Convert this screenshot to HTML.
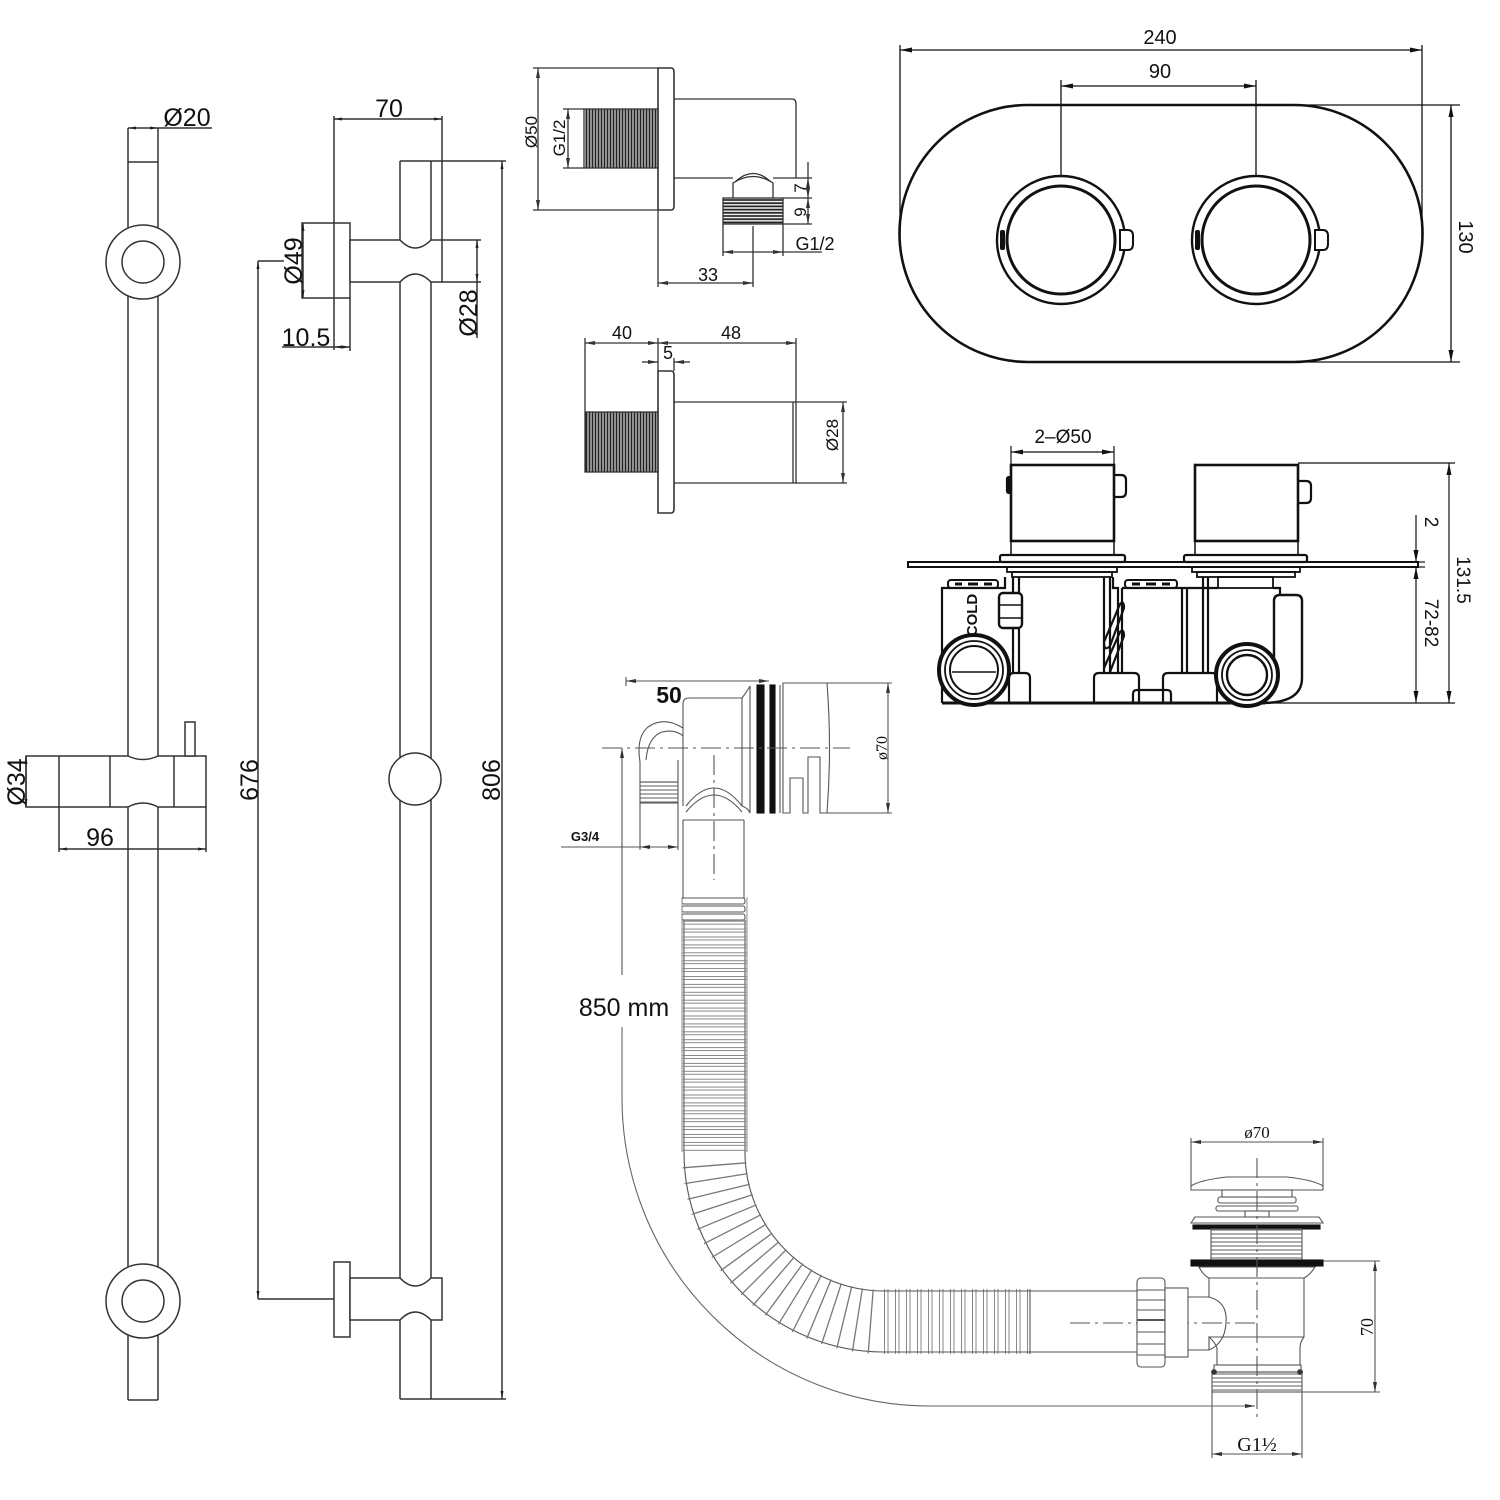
<!DOCTYPE html>
<html><head><meta charset="utf-8"><style>
html,body{margin:0;padding:0;background:#fff;}
svg{display:block;}
text{font-family:"Liberation Sans",sans-serif;fill:#111;}
</style></head><body>
<svg width="1500" height="1500" viewBox="0 0 1500 1500" xmlns="http://www.w3.org/2000/svg">
<defs>
<marker id="s" viewBox="0 0 8 3" refX="8" refY="1.5" markerWidth="8" markerHeight="3" markerUnits="userSpaceOnUse" orient="auto-start-reverse"><path d="M0,0L8,1.5L0,3z" fill="#222"/></marker>
<marker id="m" viewBox="0 0 12 5" refX="12" refY="2.5" markerWidth="12" markerHeight="5" markerUnits="userSpaceOnUse" orient="auto-start-reverse"><path d="M0,0L12,2.5L0,5z" fill="#111"/></marker>
<marker id="b" viewBox="0 0 10 4" refX="10" refY="2" markerWidth="10" markerHeight="4" markerUnits="userSpaceOnUse" orient="auto-start-reverse"><path d="M0,0L10,2L0,4z" fill="#333"/></marker>
<pattern id="tv" patternUnits="userSpaceOnUse" width="3" height="10"><line x1="1.5" y1="0" x2="1.5" y2="10" stroke="#222" stroke-width="2"/></pattern>
<pattern id="th" patternUnits="userSpaceOnUse" width="10" height="3.2"><line x1="0" y1="1.6" x2="10" y2="1.6" stroke="#222" stroke-width="1.8"/></pattern>
<pattern id="tw" patternUnits="userSpaceOnUse" width="10" height="4"><line x1="0" y1="2" x2="10" y2="2" stroke="#777" stroke-width="1.2"/></pattern>
<pattern id="rv" patternUnits="userSpaceOnUse" x="0" y="897" width="100" height="7.9"><line x1="0" y1="0.5" x2="100" y2="0.5" stroke="#888" stroke-width="1"/><line x1="0" y1="3.5" x2="100" y2="3.5" stroke="#888" stroke-width="1"/></pattern>
<pattern id="rh" patternUnits="userSpaceOnUse" x="884" y="0" width="11" height="100"><line x1="0.5" y1="0" x2="0.5" y2="100" stroke="#888"/><line x1="4" y1="0" x2="4" y2="100" stroke="#888"/></pattern>
</defs>

<!-- ================= SHOWER RAIL: FRONT VIEW ================= -->
<g stroke="#333" stroke-width="1.5" fill="none">
<line x1="128" y1="128" x2="128" y2="1400"/>
<line x1="158" y1="128" x2="158" y2="1400"/>
<line x1="128" y1="162" x2="158" y2="162"/>
<line x1="128" y1="1400" x2="158" y2="1400"/>
<line x1="128" y1="128" x2="158" y2="128" marker-start="url(#s)" marker-end="url(#s)"/>
<line x1="158" y1="128" x2="212" y2="128"/>
<circle cx="143" cy="262" r="37" fill="#fff"/>
<circle cx="143" cy="262" r="21"/>
<circle cx="143" cy="1301" r="37" fill="#fff"/>
<circle cx="143" cy="1301" r="21"/>
<path d="M26,756 H128 Q143,763 158,756 H206 V807 H158 Q143,799 128,807 H26 Z" fill="#fff"/>
<line x1="59" y1="756" x2="59" y2="852"/>
<line x1="110" y1="756" x2="110" y2="807"/>
<line x1="174" y1="756" x2="174" y2="807"/>
<line x1="206" y1="807" x2="206" y2="852"/>
<rect x="185" y="722" width="10" height="34" fill="#fff"/>
<line x1="26" y1="756" x2="26" y2="807" marker-start="url(#s)" marker-end="url(#s)"/>
<line x1="59" y1="849" x2="206" y2="849" marker-start="url(#s)" marker-end="url(#s)"/>
</g>
<g font-size="25">
<text x="187" y="126" text-anchor="middle">Ø20</text>
<text transform="translate(25,782) rotate(-90)" text-anchor="middle">Ø34</text>
<text x="100" y="846" text-anchor="middle">96</text>
</g>

<!-- ================= SHOWER RAIL: SIDE VIEW ================= -->
<g stroke="#333" stroke-width="1.5" fill="none">
<line x1="400" y1="161" x2="400" y2="1399"/>
<line x1="431" y1="161" x2="431" y2="1399"/>
<line x1="400" y1="161" x2="506" y2="161"/>
<line x1="400" y1="1399" x2="506" y2="1399"/>
<circle cx="415" cy="779" r="26" fill="#fff"/>
<rect x="302" y="223" width="48" height="75" fill="#fff"/>
<path d="M350,240 H400 Q415,256 431,240 H442 V282 H431 Q415,266 400,282 H350 Z" fill="#fff"/>
<rect x="334" y="1262" width="16" height="75" fill="#fff"/>
<path d="M350,1278 H400 Q415,1294 431,1278 H442 V1320 H431 Q415,1304 400,1320 H350 Z" fill="#fff"/>
<line x1="334" y1="116" x2="334" y2="350"/>
<line x1="442" y1="116" x2="442" y2="240"/>
<line x1="334" y1="119" x2="442" y2="119" marker-start="url(#s)" marker-end="url(#s)"/>
<line x1="442" y1="240" x2="481" y2="240"/>
<line x1="442" y1="282" x2="481" y2="282"/>
<line x1="477" y1="240" x2="477" y2="282" marker-start="url(#s)" marker-end="url(#s)"/>
<line x1="477" y1="282" x2="477" y2="338"/>
<line x1="303" y1="223" x2="303" y2="298" marker-start="url(#s)" marker-end="url(#s)"/>
<line x1="350" y1="298" x2="350" y2="351"/>
<line x1="282" y1="347" x2="334" y2="347"/>
<line x1="334" y1="347" x2="350" y2="347" marker-start="url(#s)" marker-end="url(#s)"/>
<line x1="258" y1="261" x2="284" y2="261"/>
<line x1="258" y1="261" x2="258" y2="1299" marker-start="url(#s)" marker-end="url(#s)"/>
<line x1="258" y1="1299" x2="334" y2="1299"/>
<line x1="502" y1="161" x2="502" y2="1399" marker-start="url(#s)" marker-end="url(#s)"/>
</g>
<g font-size="25">
<text x="389" y="117" text-anchor="middle">70</text>
<text transform="translate(477,313) rotate(-90)" text-anchor="middle">Ø28</text>
<text transform="translate(302,261) rotate(-90)" text-anchor="middle">Ø49</text>
<text x="306" y="346" text-anchor="middle">10.5</text>
<text transform="translate(258,780) rotate(-90)" text-anchor="middle">676</text>
<text transform="translate(500,780) rotate(-90)" text-anchor="middle">806</text>
</g>

<!-- ================= WALL ELBOW (TOP) ================= -->
<g stroke="#333" stroke-width="1.3" fill="none">
<line x1="533" y1="68" x2="658" y2="68"/>
<line x1="533" y1="210" x2="658" y2="210"/>
<line x1="538" y1="68" x2="538" y2="210" marker-start="url(#b)" marker-end="url(#b)"/>
<path d="M658,68 H671 Q674,68 674,72 V206 Q674,210 671,210 H658 Z" stroke-width="1.6" fill="#fff"/>
<rect x="584" y="109" width="74" height="59" fill="url(#tv)"/>
<line x1="563" y1="109" x2="584" y2="109"/>
<line x1="563" y1="168" x2="584" y2="168"/>
<line x1="568" y1="109" x2="568" y2="168" marker-start="url(#b)" marker-end="url(#b)"/>
<path d="M674,99 H792 Q796,99 796,104 V178 H773 M733,178 H674"/>
<path d="M733,198 V183 Q753,170 773,183 V198"/>
<path d="M736,181 Q753,166 770,181"/>
<rect x="723" y="198" width="60" height="26" fill="url(#th)"/>
<line x1="796" y1="178" x2="812" y2="178"/>
<line x1="783" y1="198" x2="812" y2="198"/>
<line x1="783" y1="224" x2="812" y2="224"/>
<line x1="808" y1="162" x2="808" y2="178"/>
<line x1="808" y1="178" x2="808" y2="198" marker-start="url(#b)" marker-end="url(#b)"/>
<line x1="808" y1="198" x2="808" y2="224" marker-start="url(#b)" marker-end="url(#b)"/>
<line x1="723" y1="224" x2="723" y2="256"/>
<line x1="783" y1="224" x2="783" y2="256"/>
<line x1="723" y1="252" x2="783" y2="252" marker-start="url(#b)" marker-end="url(#b)"/>
<line x1="783" y1="252" x2="822" y2="252"/>
<line x1="658" y1="210" x2="658" y2="287"/>
<line x1="753" y1="226" x2="753" y2="287"/>
<line x1="658" y1="283" x2="753" y2="283" marker-start="url(#b)" marker-end="url(#b)"/>
</g>
<g font-size="17">
<text transform="translate(537,132) rotate(-90)" text-anchor="middle">Ø50</text>
<text transform="translate(565,138) rotate(-90)" text-anchor="middle">G1/2</text>
<text transform="translate(806,188) rotate(-90)" text-anchor="middle">7</text>
<text transform="translate(806,212) rotate(-90)" text-anchor="middle">9</text>
<text x="815" y="250" text-anchor="middle" font-size="18">G1/2</text>
<text x="708" y="281" text-anchor="middle" font-size="18">33</text>
</g>

<!-- ================= WALL ELBOW (BOTTOM) ================= -->
<g stroke="#333" stroke-width="1.3" fill="none">
<line x1="585" y1="338" x2="585" y2="412"/>
<line x1="658" y1="338" x2="658" y2="371"/>
<line x1="796" y1="338" x2="796" y2="402"/>
<line x1="585" y1="343" x2="658" y2="343" marker-start="url(#b)" marker-end="url(#b)"/>
<line x1="658" y1="343" x2="796" y2="343" marker-start="url(#b)" marker-end="url(#b)"/>
<line x1="642" y1="362" x2="658" y2="362" marker-end="url(#b)"/>
<line x1="690" y1="362" x2="674" y2="362" marker-end="url(#b)"/>
<line x1="674" y1="358" x2="674" y2="371"/>
<path d="M658,371 H671 Q674,371 674,375 V509 Q674,513 671,513 H658 Z" stroke-width="1.6"/>
<rect x="585" y="412" width="73" height="60" fill="url(#tv)"/>
<path d="M674,402 H796 V483 H674"/>
<line x1="793" y1="402" x2="793" y2="483"/>
<line x1="796" y1="402" x2="847" y2="402"/>
<line x1="796" y1="483" x2="847" y2="483"/>
<line x1="843" y1="402" x2="843" y2="483" marker-start="url(#b)" marker-end="url(#b)"/>
</g>
<g font-size="18">
<text x="622" y="339" text-anchor="middle">40</text>
<text x="731" y="339" text-anchor="middle">48</text>
<text x="668" y="359" text-anchor="middle">5</text>
<text transform="translate(838,435) rotate(-90)" text-anchor="middle" font-size="17">Ø28</text>
</g>

<!-- ================= OVAL COVER PLATE ================= -->
<g stroke="#111" fill="none">
<path d="M1028,105 H1294 A128.5,128.5 0 0 1 1294,362 H1028 A128.5,128.5 0 0 1 1028,105 Z" stroke-width="2.6"/>
<circle cx="1061" cy="240" r="64" stroke-width="2.4"/>
<circle cx="1061" cy="240" r="54" stroke-width="3"/>
<circle cx="1256" cy="240" r="64" stroke-width="2.4"/>
<circle cx="1256" cy="240" r="54" stroke-width="3"/>
<path d="M1120,230 H1128 Q1133,230 1133,236 V244 Q1133,250 1128,250 H1120 Z" stroke-width="2" fill="#fff"/>
<path d="M1315,230 H1323 Q1328,230 1328,236 V244 Q1328,250 1323,250 H1315 Z" stroke-width="2" fill="#fff"/>
<rect x="1000" y="230" width="5" height="20" rx="2" fill="#111" stroke="none"/>
<rect x="1195" y="230" width="5" height="20" rx="2" fill="#111" stroke="none"/>
<g stroke-width="1.3">
<line x1="900" y1="45" x2="900" y2="235"/>
<line x1="1422" y1="45" x2="1422" y2="235"/>
<line x1="900" y1="50" x2="1422" y2="50" marker-start="url(#m)" marker-end="url(#m)"/>
<line x1="1061" y1="80" x2="1061" y2="176"/>
<line x1="1256" y1="80" x2="1256" y2="176"/>
<line x1="1061" y1="86" x2="1256" y2="86" marker-start="url(#m)" marker-end="url(#m)"/>
<line x1="1294" y1="105" x2="1460" y2="105"/>
<line x1="1294" y1="362" x2="1460" y2="362"/>
<line x1="1451" y1="105" x2="1451" y2="362" marker-start="url(#m)" marker-end="url(#m)"/>
</g>
</g>
<g font-size="20">
<text x="1160" y="44" text-anchor="middle">240</text>
<text x="1160" y="78" text-anchor="middle">90</text>
<text transform="translate(1459,237) rotate(90)" text-anchor="middle">130</text>
</g>

<!-- ================= VALVE SIDE VIEW ================= -->
<g stroke="#111" stroke-width="2.2" fill="none">
<line x1="1011" y1="446" x2="1011" y2="465" stroke-width="1.2"/>
<line x1="1114" y1="446" x2="1114" y2="465" stroke-width="1.2"/>
<line x1="1011" y1="452" x2="1114" y2="452" stroke-width="1.2" marker-start="url(#m)" marker-end="url(#m)"/>
<rect x="1011" y="465" width="103" height="76" stroke-width="2.6"/>
<rect x="1011" y="541" width="103" height="14" stroke-width="1.5"/>
<path d="M1114,475 H1121 Q1126,475 1126,480 V492 Q1126,497 1121,497 H1114" stroke-width="2.2"/>
<rect x="1007" y="477" width="4" height="16" rx="2" fill="#111"/>
<rect x="1195" y="465" width="103" height="76" stroke-width="2.6"/>
<rect x="1195" y="541" width="103" height="14" stroke-width="1.5"/>
<path d="M1298,481 H1306 Q1311,481 1311,486 V498 Q1311,503 1306,503 H1298" stroke-width="2.2"/>
<rect x="1000" y="555" width="125" height="7" rx="2"/>
<rect x="1184" y="555" width="123" height="7" rx="2"/>
<rect x="908" y="562" width="510" height="5" stroke-width="2"/>
<rect x="1007" y="567" width="110" height="5" stroke-width="1.8"/>
<rect x="1012" y="572" width="100" height="5" stroke-width="1.8"/>
<rect x="1192" y="567" width="108" height="5" stroke-width="1.8"/>
<rect x="1197" y="572" width="98" height="5" stroke-width="1.8"/>
<path d="M942,703 V588 H1005 V577"/>
<rect x="948" y="580" width="50" height="8" rx="3" stroke-width="2"/>
<line x1="955" y1="584" x2="962" y2="584" stroke-width="3"/>
<line x1="968" y1="584" x2="978" y2="584" stroke-width="3"/>
<line x1="984" y1="584" x2="992" y2="584" stroke-width="3"/>
<line x1="1013" y1="577" x2="1013" y2="673"/>
<line x1="1019" y1="577" x2="1019" y2="673"/>
<rect x="999" y="593" width="23" height="35" rx="4" stroke-width="2.4" fill="#fff"/>
<line x1="1000" y1="605" x2="1021" y2="605" stroke-width="1.5"/>
<line x1="1000" y1="618" x2="1021" y2="618" stroke-width="1.5"/>
<line x1="1104" y1="577" x2="1104" y2="673"/>
<line x1="1110" y1="577" x2="1110" y2="673"/>
<path d="M1113,577 V588 H1118 V673"/>
<line x1="1122" y1="588" x2="1122" y2="673"/>
<rect x="1125" y="580" width="52" height="8" rx="3" stroke-width="2"/>
<line x1="1132" y1="584" x2="1140" y2="584" stroke-width="3"/>
<line x1="1146" y1="584" x2="1156" y2="584" stroke-width="3"/>
<line x1="1162" y1="584" x2="1170" y2="584" stroke-width="3"/>
<line x1="1122" y1="588" x2="1218" y2="588"/>
<line x1="1182" y1="588" x2="1182" y2="673"/>
<line x1="1187" y1="588" x2="1187" y2="673"/>
<line x1="1203" y1="577" x2="1203" y2="673"/>
<line x1="1208" y1="577" x2="1208" y2="673"/>
<rect x="1218" y="577" width="55" height="11" stroke-width="1.8"/>
<path d="M1273,588 H1280 V595"/>
<path d="M1262,703 Q1302,703 1302,678 V601 Q1302,595 1296,595 H1280 Q1274,595 1274,601 V680 Q1274,692 1262,693" stroke-width="2.4"/>
<path d="M1104,642 L1120,604 Q1124,600 1124,608 L1110,646 Q1104,652 1104,642 Z" stroke-width="2.2"/>
<path d="M1104,668 L1120,632 Q1124,628 1124,636 L1110,672" stroke-width="2.2"/>
<path d="M1009,703 V678 Q1009,673 1014,673 H1025 Q1030,673 1030,678 V703"/>
<path d="M1094,703 V678 Q1094,673 1099,673 H1134 Q1139,673 1139,678 V703"/>
<path d="M1133,703 V694 Q1133,690 1137,690 H1167 Q1171,690 1171,694 V703"/>
<path d="M1163,703 V678 Q1163,673 1168,673 H1212 Q1217,673 1217,678 V703"/>
<line x1="942" y1="703" x2="1265" y2="703" stroke-width="3"/>
<circle cx="974" cy="670" r="35" stroke-width="4" fill="#fff"/>
<circle cx="974" cy="670" r="29" stroke-width="1.8"/>
<circle cx="974" cy="670" r="24" stroke-width="2"/>
<line x1="952" y1="672" x2="996" y2="672" stroke-width="1.5"/>
<circle cx="1247" cy="675" r="31" stroke-width="4" fill="#fff"/>
<circle cx="1247" cy="675" r="25" stroke-width="1.8"/>
<circle cx="1247" cy="675" r="20" stroke-width="2.4"/>
<g stroke-width="1.2">
<line x1="1298" y1="463" x2="1455" y2="463"/>
<line x1="1265" y1="703" x2="1455" y2="703"/>
<line x1="1418" y1="562" x2="1425" y2="562"/>
<line x1="1418" y1="567" x2="1425" y2="567"/>
<line x1="1449" y1="463" x2="1449" y2="703" marker-start="url(#m)" marker-end="url(#m)"/>
<line x1="1416" y1="515" x2="1416" y2="562" marker-end="url(#m)"/>
<line x1="1416" y1="567" x2="1416" y2="703" marker-start="url(#m)" marker-end="url(#m)"/>
</g>
</g>
<g font-size="19">
<text x="1063" y="443" text-anchor="middle">2–Ø50</text>
<text transform="translate(1425,522) rotate(90)" text-anchor="middle">2</text>
<text transform="translate(1425,623) rotate(90)" text-anchor="middle">72-82</text>
<text transform="translate(1457,580) rotate(90)" text-anchor="middle">131.5</text>
<text transform="translate(977,615) rotate(-90)" text-anchor="middle" font-size="15" font-weight="bold">COLD</text>
</g>

<!-- ================= BATH WASTE & OVERFLOW ================= -->
<g stroke="#555" stroke-width="1.1" fill="none">
<line x1="626" y1="677" x2="626" y2="686"/>
<line x1="626" y1="681" x2="769" y2="681" marker-start="url(#b)" marker-end="url(#b)"/>
<path d="M640,782 V762 Q636,737 648,727 Q664,716 683,728"/>
<path d="M646,760 Q648,737 662,732 Q675,729 683,736"/>
<path d="M678,782 V760"/>
<rect x="640" y="782" width="38" height="21" fill="url(#tw)"/>
<line x1="640" y1="803" x2="640" y2="850"/>
<line x1="678" y1="803" x2="678" y2="850"/>
<path d="M683,806 V704 Q683,698 689,698 H742 V806"/>
<path d="M742,698 Q748,690 750,686 V813 Q748,808 742,806"/>
<path d="M686,806 Q714,770 742,806"/>
<path d="M686,812 Q714,778 742,812"/>
<line x1="683" y1="820" x2="744" y2="820"/>
<line x1="683" y1="820" x2="683" y2="898"/>
<line x1="744" y1="820" x2="744" y2="898"/>
<rect x="682" y="898" width="63" height="6" rx="2"/>
<rect x="682" y="906" width="63" height="6" rx="2"/>
<rect x="682" y="914" width="63" height="6" rx="2"/>
<rect x="757" y="685" width="7" height="128" fill="#111" stroke="#111"/>
<rect x="770" y="685" width="5" height="128" fill="#111" stroke="#111"/>
<line x1="780" y1="685" x2="780" y2="813"/>
<path d="M783,683 H827 Q832,748 827,813 H820 V757 H808 V813 H803 V778 H790 V813 H783 Z"/>
<line x1="827" y1="683" x2="892" y2="683"/>
<line x1="827" y1="813" x2="892" y2="813"/>
<line x1="888" y1="683" x2="888" y2="813" marker-start="url(#b)" marker-end="url(#b)"/>
<line x1="602" y1="748" x2="850" y2="748" stroke-dasharray="20,5,3,5"/>
<line x1="714" y1="755" x2="714" y2="880" stroke-dasharray="20,5,3,5"/>
<line x1="561" y1="847" x2="640" y2="847"/>
<line x1="640" y1="847" x2="678" y2="847" marker-start="url(#b)" marker-end="url(#b)"/>
<line x1="684" y1="920" x2="684" y2="1152"/>
<line x1="745" y1="920" x2="745" y2="1152"/>
<rect x="682" y="920" width="65" height="232" fill="url(#rv)" stroke="none"/>
<line x1="682" y1="897" x2="682" y2="1152" stroke="#999"/>
<line x1="747" y1="897" x2="747" y2="1152" stroke="#999"/>
<path d="M745,1152 A139,139 0 0 0 884,1291"/>
<path d="M684,1152 A200,200 0 0 0 884,1352"/>
<g stroke="#777" stroke-width="1.3">
<line x1="746.4" y1="1162.8" x2="682.6" y2="1167.8"/>
<line x1="747.7" y1="1173.6" x2="684.5" y2="1183.6"/>
<line x1="749.8" y1="1184.2" x2="687.6" y2="1199.2"/>
<line x1="752.8" y1="1194.6" x2="691.9" y2="1214.4"/>
<line x1="756.5" y1="1204.8" x2="697.4" y2="1229.3"/>
<line x1="761.0" y1="1214.7" x2="704.0" y2="1243.7"/>
<line x1="766.3" y1="1224.1" x2="711.8" y2="1257.5"/>
<line x1="772.4" y1="1233.1" x2="720.6" y2="1270.7"/>
<line x1="779.1" y1="1241.6" x2="730.4" y2="1283.2"/>
<line x1="786.4" y1="1249.6" x2="741.2" y2="1294.8"/>
<line x1="794.4" y1="1256.9" x2="752.8" y2="1305.6"/>
<line x1="802.9" y1="1263.6" x2="765.3" y2="1315.4"/>
<line x1="811.9" y1="1269.7" x2="778.5" y2="1324.2"/>
<line x1="821.4" y1="1275.0" x2="792.3" y2="1332.0"/>
<line x1="831.2" y1="1279.5" x2="806.7" y2="1338.6"/>
<line x1="841.4" y1="1283.3" x2="821.6" y2="1344.1"/>
<line x1="851.8" y1="1286.2" x2="836.8" y2="1348.4"/>
<line x1="862.4" y1="1288.3" x2="852.4" y2="1351.5"/>
<line x1="873.2" y1="1289.6" x2="868.2" y2="1353.4"/>
</g>
<rect x="884" y="1289" width="146" height="65" fill="url(#rh)" stroke="none"/>
<line x1="884" y1="1291" x2="1137" y2="1291"/>
<line x1="884" y1="1352" x2="1137" y2="1352"/>
<line x1="1030" y1="1289" x2="1030" y2="1354"/>
<line x1="1070" y1="1323" x2="1257" y2="1323" stroke-dasharray="20,5,3,5"/>
<rect x="1137" y="1278" width="28" height="89" rx="4" fill="#fff"/>
<g stroke-width="1">
<line x1="1137" y1="1290" x2="1165" y2="1290"/>
<line x1="1137" y1="1300" x2="1165" y2="1300"/>
<line x1="1137" y1="1310" x2="1165" y2="1310"/>
<line x1="1137" y1="1320" x2="1165" y2="1320" stroke-width="2"/>
<line x1="1137" y1="1332" x2="1165" y2="1332"/>
<line x1="1137" y1="1344" x2="1165" y2="1344"/>
<line x1="1137" y1="1355" x2="1165" y2="1355"/>
</g>
<rect x="1165" y="1288" width="23" height="69" fill="#fff"/>
<line x1="1188" y1="1297" x2="1209" y2="1297"/>
<line x1="1188" y1="1350" x2="1209" y2="1350"/>
<path d="M1209,1297 Q1228,1302 1226,1323 Q1225,1343 1209,1350"/>
<path d="M1191,1190 V1186 Q1200,1180 1227,1177 H1287 Q1314,1180 1323,1186 V1190 Z"/>
<rect x="1222" y="1190" width="70" height="7"/>
<rect x="1218" y="1197" width="78" height="6" rx="2"/>
<rect x="1216" y="1206" width="82" height="5" rx="2"/>
<rect x="1245" y="1211" width="24" height="6"/>
<path d="M1191,1223 L1195,1217 H1319 L1323,1223 Z"/>
<rect x="1193" y="1225" width="127" height="4" fill="#111" stroke="#111"/>
<rect x="1211" y="1229" width="91" height="31" fill="url(#tw)"/>
<rect x="1191" y="1260" width="132" height="6" fill="#111" stroke="#111"/>
<path d="M1199,1267 H1315 Q1310,1275 1304,1278 H1209 Q1203,1275 1199,1267 Z"/>
<path d="M1209,1278 V1297 M1209,1350 V1337 Q1215,1342 1217,1348 V1365 M1304,1278 V1337 Q1300,1342 1300,1348 V1365"/>
<line x1="1209" y1="1337" x2="1304" y2="1337"/>
<rect x="1214" y="1365" width="87" height="7"/>
<rect x="1212" y="1372" width="90" height="20" fill="url(#tw)"/>
<circle cx="1214" cy="1372" r="2.5" fill="#333"/>
<circle cx="1300" cy="1372" r="2.5" fill="#333"/>
<line x1="1257" y1="1158" x2="1257" y2="1420" stroke-dasharray="20,5,3,5"/>
<line x1="1191" y1="1138" x2="1191" y2="1186"/>
<line x1="1323" y1="1138" x2="1323" y2="1186"/>
<line x1="1191" y1="1142" x2="1323" y2="1142" marker-start="url(#b)" marker-end="url(#b)"/>
<line x1="1323" y1="1261" x2="1380" y2="1261"/>
<line x1="1302" y1="1392" x2="1380" y2="1392"/>
<line x1="1375" y1="1261" x2="1375" y2="1392" marker-start="url(#b)" marker-end="url(#b)"/>
<line x1="1212" y1="1392" x2="1212" y2="1458"/>
<line x1="1302" y1="1392" x2="1302" y2="1458"/>
<line x1="1212" y1="1454" x2="1302" y2="1454" marker-start="url(#b)" marker-end="url(#b)"/>
<line x1="622" y1="748" x2="622" y2="975" marker-start="url(#b)"/>
<path d="M622,1027 V1098 A308,308 0 0 0 930,1406 H1255" marker-end="url(#b)" stroke="#666"/>
</g>
<text x="669" y="703" text-anchor="middle" font-size="23" font-weight="bold" fill="#111">50</text>
<text x="585" y="841" text-anchor="middle" font-size="13" font-weight="bold" fill="#333">G3/4</text>
<text transform="translate(887,748) rotate(-90)" text-anchor="middle" font-size="16" style="font-family:'Liberation Serif',serif">ø70</text>
<text x="624" y="1016" text-anchor="middle" font-size="25" fill="#222">850 mm</text>
<text x="1257" y="1138" text-anchor="middle" font-size="17" style="font-family:'Liberation Serif',serif">ø70</text>
<text transform="translate(1373,1327) rotate(-90)" text-anchor="middle" font-size="18" style="font-family:'Liberation Serif',serif">70</text>
<text x="1257" y="1451" text-anchor="middle" font-size="20" style="font-family:'Liberation Serif',serif">G1½</text>
</svg>
</body></html>
